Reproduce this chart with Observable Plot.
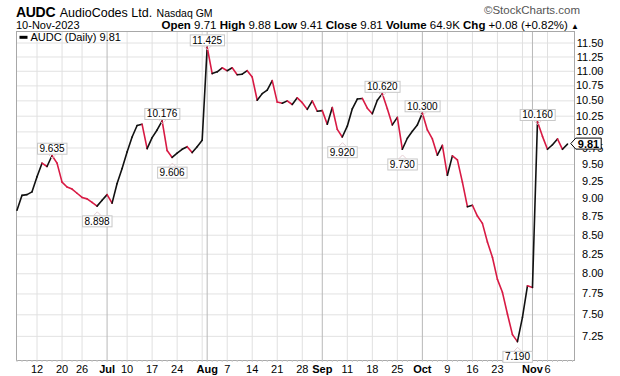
<!DOCTYPE html>
<html><head><meta charset="utf-8">
<script src="https://cdn.jsdelivr.net/npm/d3@7"></script>
<script src="https://cdn.jsdelivr.net/npm/@observablehq/plot@0.6"></script>
<style>
body{margin:0;background:#fff;font-family:"Liberation Sans",Arial,sans-serif;}
#wrap{position:relative;width:620px;height:376px;overflow:hidden;}
#chart{position:absolute;left:0;top:0;}
.hdr{position:absolute;white-space:nowrap;color:#000;z-index:2;line-height:1;}
</style></head><body>
<div id="wrap">
<div id="chart"></div>
<div class="hdr" style="left:16px;top:4px;"><b style="font-size:14px;letter-spacing:-0.3px">AUDC</b> <span style="font-size:12.5px">AudioCodes Ltd.</span> <span style="font-size:10.5px">Nasdaq GM</span></div>
<div class="hdr" style="right:40px;top:5px;font-size:11.5px;color:#555">©StockCharts.com</div>
<div class="hdr" style="left:16px;top:20px;font-size:11px">10-Nov-2023</div>
<div class="hdr" style="right:41px;top:20px;font-size:11.5px"><b>Open</b> 9.71 <b>High</b> 9.88 <b>Low</b> 9.41 <b>Close</b> 9.81 <b>Volume</b> 64.9K <b>Chg</b> +0.08 (+0.82%) <span style="font-size:8px">▲</span></div>
</div>
<script>
// ---- data ----
const firstDay = "2023-06-06";
const lastDay = "2023-11-10";
const holidays = ["2023-06-19", "2023-07-04", "2023-09-04"];
const closes = [
  8.84, 9.05, 9.06, 9.10, 9.32, 9.52, 9.47, 9.635, 9.52, 9.24,
  9.17, 9.14, 9.08, 9.02, 9.00, 8.95, 8.898, 8.98, 9.06, 8.94,
  9.22, 9.44, 9.69, 9.92, 10.10, 10.12, 9.74, 9.91, 10.03, 10.176,
  9.71, 9.606, 9.67, 9.73, 9.77, 9.68, 9.77, 9.87, 11.425, 10.96,
  10.99, 11.06, 11.01, 11.06, 10.94, 10.95, 11.01, 10.90, 10.51, 10.62,
  10.68, 10.84, 10.48, 10.46, 10.50, 10.44, 10.55, 10.47, 10.36, 10.50,
  10.33, 10.34, 10.12, 10.39, 10.04, 9.92, 10.09, 10.37, 10.53, 10.54,
  10.38, 10.29, 10.51, 10.62, 10.37, 10.11, 10.23, 9.73, 9.90, 10.01,
  10.11, 10.30, 10.03, 9.89, 9.64, 9.79, 9.34, 9.63, 9.57, 9.24,
  8.89, 8.91, 8.76, 8.66, 8.41, 8.21, 7.93, 7.77, 7.51, 7.27,
  7.19, 7.47, 7.85, 7.83, 10.16, 9.93, 9.73, 9.80, 9.89, 9.73,
  9.81
];
const tickDates = ["2023-06-12","2023-06-20","2023-06-26","2023-07-03","2023-07-10","2023-07-17","2023-07-24","2023-08-01","2023-08-07","2023-08-14","2023-08-21","2023-08-28","2023-09-01","2023-09-11","2023-09-18","2023-09-25","2023-10-02","2023-10-09","2023-10-16","2023-10-23","2023-11-01","2023-11-06"];
const tickLabels = ["12","20","26","Jul","10","17","24","Aug","7","14","21","28","Sep","11","18","25","Oct","9","16","23","Nov","6"];
const monthDates = ["2023-07-03","2023-08-01","2023-09-01","2023-10-02","2023-11-01"];
const weekDates = ["2023-06-12","2023-06-20","2023-06-26","2023-07-10","2023-07-17","2023-07-24","2023-07-31","2023-08-07","2023-08-14","2023-08-21","2023-08-28","2023-09-11","2023-09-18","2023-09-25","2023-10-09","2023-10-16","2023-10-23","2023-10-30","2023-11-06"];
const yTicks = [7.25,7.5,7.75,8,8.25,8.5,8.75,9,9.25,9.5,9.75,10,10.25,10.5,10.75,11,11.25,11.5];
const annDates = ["2023-06-15","2023-06-29","2023-07-19","2023-07-21","2023-08-01","2023-09-08","2023-09-20","2023-09-26","2023-10-02","2023-10-27","2023-11-02"];
const annLabels = ["9.635","8.898","10.176","9.606","11.425","9.920","10.620","9.730","10.300","7.190","10.160"];
const annSides = ["above","below","above","below","above","below","above","below","above","below","above"];
const legendText = "AUDC (Daily) 9.81";
const lastLabel = "9.81";

// ---- trading-day calendar ----
const fmt = d3.utcFormat("%Y-%m-%d");
const dates = [];
for (let d = new Date(firstDay + "T00:00Z"); fmt(d) <= lastDay; d = d3.utcDay.offset(d, 1)) {
  const wd = d.getUTCDay();
  if (wd === 0 || wd === 6 || holidays.includes(fmt(d))) continue;
  dates.push(fmt(d));
}
const idx = s => dates.indexOf(s) >= 0 ? dates.indexOf(s) : d3.bisectLeft(dates, s);
const rows = closes.map((c, i) => ({i, c}));
const segs = rows.slice(1).map((r, k) => ({x1: k, y1: closes[k], x2: r.i, y2: r.c, down: r.c < closes[k]}));
const tickIdx = tickDates.map(idx);
const labelOf = new Map(tickIdx.map((t, k) => [t, tickLabels[k]]));
const monthIdx = monthDates.map(idx);
const weekIdx = weekDates.map(idx);
const ann = annDates.map((d, k) => ({i: idx(d), v: +annLabels[k], t: annLabels[k], side: annSides[k]}));
const red = "#d81a44";

const plot = Plot.plot({
  width: 620, height: 376,
  marginLeft: 16, marginRight: 46, marginTop: 31, marginBottom: 16,
  style: {background: "transparent", fontFamily: "'Liberation Sans', Arial, sans-serif", overflow: "visible"},
  x: {type: "linear", domain: [-0.1, 111.4], axis: null},
  y: {type: "log", domain: [6.98, 11.71], axis: null},
  marks: [
    Plot.ruleY(yTicks, {stroke: "#e2e2e2", strokeWidth: 1}),
    Plot.ruleX(weekIdx, {stroke: "#e0e0e0", strokeWidth: 1}),
    Plot.ruleX(monthIdx, {stroke: "#b8b8b8", strokeWidth: 1}),
    Plot.frame({stroke: "#a8a8a8"}),
    Plot.axisY(yTicks, {anchor: "right", tickSize: 3, tickPadding: 2, textAnchor: "end", dx: 24, fontSize: 11, tickFormat: d => d.toFixed(2), stroke: "#999"}),
    Plot.axisX(d3.range(0, 112), {anchor: "bottom", tickSize: 2, tickFormat: () => "", stroke: "#c8c8c8"}),
    Plot.axisX(tickIdx.filter(t => !monthIdx.includes(t)), {anchor: "bottom", tickSize: 0, tickPadding: 5, fontSize: 11, tickFormat: t => labelOf.get(t)}),
    Plot.axisX(monthIdx, {anchor: "bottom", tickSize: 0, tickPadding: 5, fontSize: 11, fontWeight: "bold", tickFormat: t => labelOf.get(t)}),
    Plot.link(segs, {x1: "x1", y1: "y1", x2: "x2", y2: "y2", stroke: d => d.down ? red : "#111", strokeWidth: 1.6, strokeLinecap: "round"}),
    Plot.text(ann, {x: "i", y: "v", text: "t", fontSize: 10, fill: "#000"}),
    Plot.text([legendText], {frameAnchor: "top-left", dx: 14, dy: 2, fontSize: 11, fill: "#000"}),
    Plot.text([{i: closes.length - 1, c: closes[closes.length - 1]}], {x: "i", y: "c", text: () => lastLabel, dx: 21, fontSize: 11, fontWeight: "bold", fill: "#000"})
  ]
});
document.getElementById("chart").appendChild(plot);

// ---- decorations: boxes behind annotation texts, price marker, legend swatch ----
const NS = "http://www.w3.org/2000/svg";
const annSide = new Map(annLabels.map((t, k) => [t, annSides[k]]));
function el(name, attrs, before) {
  const e = document.createElementNS(NS, name);
  for (const k in attrs) e.setAttribute(k, attrs[k]);
  const tr = before.getAttribute("transform");
  if (tr) e.setAttribute("transform", tr);
  before.parentNode.insertBefore(e, before);
  return e;
}
plot.querySelectorAll("text").forEach(t => {
  const s = t.textContent;
  if (annSide.has(s)) {
    const side = annSide.get(s);
    t.setAttribute("dy", side === "above" ? "-0.65em" : "1.55em");
    const b = t.getBBox();
    el("rect", {x: b.x - 2, y: b.y, width: b.width + 4, height: b.height, fill: "#fff", stroke: "#c8c8c8"}, t);
    const cx = b.x + b.width / 2;
    const yEdge = side === "above" ? b.y + b.height : b.y;
    const d = side === "above" ? 4 : -4;
    el("path", {d: `M${cx - 4},${yEdge}L${cx},${yEdge + d}L${cx + 4},${yEdge}`, fill: "none", stroke: "#e6cfd4"}, t);
  } else if (s === lastLabel) {
    const b = t.getBBox();
    const x0 = b.x - 2, x1 = b.x + b.width + 2, y0 = b.y + 0.5, y1 = b.y + b.height - 0.5, ym = (y0 + y1) / 2;
    el("path", {d: `M${x0 - 5},${ym}L${x0},${y0}L${x1},${y0}L${x1},${y1}L${x0},${y1}Z`, fill: "#fff", stroke: "#000"}, t);
  } else if (s === legendText) {
    const b = t.getBBox();
    el("rect", {x: b.x - 11, y: b.y + b.height / 2 - 1.5, width: 8, height: 3, fill: "#000"}, t);
  }
});
</script>
</body></html>
